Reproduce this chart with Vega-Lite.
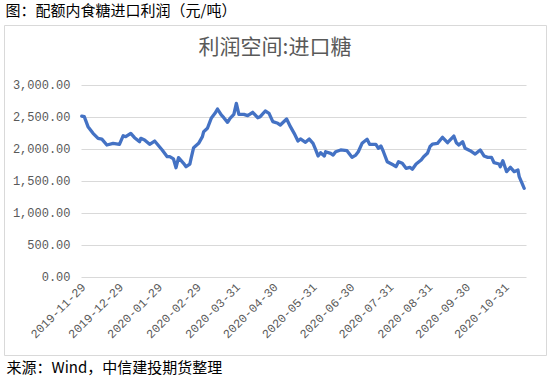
{
  "$schema": "https://vega.github.io/schema/vega-lite/v6.json",
  "padding": {"top": 3, "left": 3, "right": 0, "bottom": 0},
  "background": "white",
  "title": {"text": "图：配额内食糖进口利润（元/吨）", "anchor": "start", "font": "Noto Sans CJK SC", "fontSize": 15, "fontWeight": "normal", "color": "#000000", "offset": 6, "dx": 2},
  "config": {"concat": {"spacing": 0}, "view": {"stroke": "#d9d9d9", "strokeWidth": 1}},
  "vconcat": [
    {
      "width": 542,
      "height": 330,
      "title": {"text": "利润空间:进口糖", "anchor": "middle", "font": "Noto Sans CJK SC", "fontSize": 21, "fontWeight": "normal", "color": "#595959", "offset": -33},
      "data": {"values": [
        {"date": "2019-11-28", "value": 2510},
        {"date": "2019-11-30", "value": 2500},
        {"date": "2019-12-03", "value": 2344},
        {"date": "2019-12-07", "value": 2240},
        {"date": "2019-12-11", "value": 2162},
        {"date": "2019-12-14", "value": 2150},
        {"date": "2019-12-18", "value": 2058},
        {"date": "2019-12-23", "value": 2084},
        {"date": "2019-12-28", "value": 2068},
        {"date": "2019-12-31", "value": 2203},
        {"date": "2020-01-02", "value": 2188},
        {"date": "2020-01-06", "value": 2240},
        {"date": "2020-01-09", "value": 2172},
        {"date": "2020-01-13", "value": 2110},
        {"date": "2020-01-14", "value": 2162},
        {"date": "2020-01-17", "value": 2136},
        {"date": "2020-01-21", "value": 2068},
        {"date": "2020-01-25", "value": 2120},
        {"date": "2020-01-31", "value": 1980},
        {"date": "2020-02-04", "value": 1875},
        {"date": "2020-02-06", "value": 1875},
        {"date": "2020-02-09", "value": 1840},
        {"date": "2020-02-11", "value": 1703},
        {"date": "2020-02-13", "value": 1860},
        {"date": "2020-02-17", "value": 1772},
        {"date": "2020-02-19", "value": 1719},
        {"date": "2020-02-22", "value": 1760},
        {"date": "2020-02-23", "value": 1850},
        {"date": "2020-02-25", "value": 2016},
        {"date": "2020-02-29", "value": 2084},
        {"date": "2020-03-03", "value": 2188},
        {"date": "2020-03-04", "value": 2266},
        {"date": "2020-03-07", "value": 2319},
        {"date": "2020-03-10", "value": 2475},
        {"date": "2020-03-13", "value": 2553},
        {"date": "2020-03-15", "value": 2620},
        {"date": "2020-03-18", "value": 2527},
        {"date": "2020-03-20", "value": 2484},
        {"date": "2020-03-23", "value": 2412},
        {"date": "2020-03-25", "value": 2475},
        {"date": "2020-03-28", "value": 2537},
        {"date": "2020-03-30", "value": 2709},
        {"date": "2020-04-01", "value": 2537},
        {"date": "2020-04-05", "value": 2537},
        {"date": "2020-04-08", "value": 2516},
        {"date": "2020-04-12", "value": 2569},
        {"date": "2020-04-16", "value": 2484},
        {"date": "2020-04-18", "value": 2500},
        {"date": "2020-04-22", "value": 2589},
        {"date": "2020-04-25", "value": 2553},
        {"date": "2020-04-28", "value": 2422},
        {"date": "2020-05-02", "value": 2397},
        {"date": "2020-05-04", "value": 2370},
        {"date": "2020-05-09", "value": 2464},
        {"date": "2020-05-12", "value": 2344},
        {"date": "2020-05-15", "value": 2240},
        {"date": "2020-05-18", "value": 2120},
        {"date": "2020-05-20", "value": 2152},
        {"date": "2020-05-24", "value": 2100},
        {"date": "2020-05-27", "value": 2150},
        {"date": "2020-05-30", "value": 2084},
        {"date": "2020-06-01", "value": 1990},
        {"date": "2020-06-03", "value": 1886},
        {"date": "2020-06-05", "value": 1938},
        {"date": "2020-06-08", "value": 1886},
        {"date": "2020-06-09", "value": 1953},
        {"date": "2020-06-13", "value": 1928},
        {"date": "2020-06-15", "value": 1901},
        {"date": "2020-06-17", "value": 1953},
        {"date": "2020-06-21", "value": 1980},
        {"date": "2020-06-26", "value": 1969},
        {"date": "2020-06-30", "value": 1865},
        {"date": "2020-07-03", "value": 1901},
        {"date": "2020-07-05", "value": 1953},
        {"date": "2020-07-08", "value": 2084},
        {"date": "2020-07-12", "value": 2147},
        {"date": "2020-07-14", "value": 2068},
        {"date": "2020-07-19", "value": 2068},
        {"date": "2020-07-21", "value": 2006},
        {"date": "2020-07-23", "value": 2042},
        {"date": "2020-07-25", "value": 1953},
        {"date": "2020-07-28", "value": 1797},
        {"date": "2020-08-02", "value": 1745},
        {"date": "2020-08-04", "value": 1719},
        {"date": "2020-08-06", "value": 1797},
        {"date": "2020-08-09", "value": 1772},
        {"date": "2020-08-12", "value": 1694},
        {"date": "2020-08-15", "value": 1709},
        {"date": "2020-08-17", "value": 1678},
        {"date": "2020-08-20", "value": 1761},
        {"date": "2020-08-24", "value": 1823},
        {"date": "2020-08-26", "value": 1875},
        {"date": "2020-08-29", "value": 1928},
        {"date": "2020-08-31", "value": 2031},
        {"date": "2020-09-02", "value": 2073},
        {"date": "2020-09-06", "value": 2084},
        {"date": "2020-09-10", "value": 2178},
        {"date": "2020-09-14", "value": 2094},
        {"date": "2020-09-19", "value": 2198},
        {"date": "2020-09-21", "value": 2094},
        {"date": "2020-09-23", "value": 2058},
        {"date": "2020-09-26", "value": 2110},
        {"date": "2020-09-28", "value": 2006},
        {"date": "2020-10-02", "value": 1969},
        {"date": "2020-10-06", "value": 1917},
        {"date": "2020-10-10", "value": 1980},
        {"date": "2020-10-13", "value": 1886},
        {"date": "2020-10-16", "value": 1865},
        {"date": "2020-10-19", "value": 1865},
        {"date": "2020-10-21", "value": 1781},
        {"date": "2020-10-25", "value": 1761},
        {"date": "2020-10-26", "value": 1719},
        {"date": "2020-10-28", "value": 1812},
        {"date": "2020-10-31", "value": 1641},
        {"date": "2020-11-03", "value": 1709},
        {"date": "2020-11-06", "value": 1641},
        {"date": "2020-11-09", "value": 1667},
        {"date": "2020-11-10", "value": 1563},
        {"date": "2020-11-14", "value": 1381}
      ]},
      "mark": {"type": "line", "color": "#4472C4", "strokeWidth": 3.3, "strokeJoin": "round", "strokeCap": "round"},
      "encoding": {
        "x": {
          "field": "date", "type": "temporal",
          "scale": {"type": "utc", "domain": [{"year": 2019, "month": 11, "date": 27, "hours": 10, "utc": true}, {"year": 2020, "month": 11, "date": 15, "hours": 10, "utc": true}], "range": [77, 522]},
          "axis": {
            "title": "来源：Wind，中信建投期货整理",
            "values": [
              {"year": 2019, "month": 11, "date": 29, "utc": true},
              {"year": 2019, "month": 12, "date": 29, "utc": true},
              {"year": 2020, "month": 1, "date": 29, "utc": true},
              {"year": 2020, "month": 2, "date": 29, "utc": true},
              {"year": 2020, "month": 3, "date": 31, "utc": true},
              {"year": 2020, "month": 4, "date": 30, "utc": true},
              {"year": 2020, "month": 5, "date": 31, "utc": true},
              {"year": 2020, "month": 6, "date": 30, "utc": true},
              {"year": 2020, "month": 7, "date": 31, "utc": true},
              {"year": 2020, "month": 8, "date": 31, "utc": true},
              {"year": 2020, "month": 9, "date": 30, "utc": true},
              {"year": 2020, "month": 10, "date": 31, "utc": true}
            ],
            "format": "%Y-%m-%d",
            "labelAngle": -45,
            "labelAlign": "right",
            "labelBaseline": "middle",
            "labelFlush": false,
            "labelOverlap": false,
            "labelBound": false,
            "labelPadding": 8,
            "labelFont": "Liberation Mono",
            "labelFontSize": 12,
            "labelColor": "#595959",
            "offset": -78.3,
            "domain": false,
            "ticks": false,
            "grid": false,
            "titleFont": "Noto Sans CJK SC",
            "titleFontSize": 15,
            "titleFontWeight": "normal",
            "titleColor": "#000000",
            "titleX": 2,
            "titleY": 91,
            "titleAlign": "left",
            "titleBaseline": "middle",
            "titleAnchor": "start"
          }
        },
        "y": {
          "field": "value", "type": "quantitative",
          "scale": {"domain": [0, 3000], "range": [251.7, 59.7], "nice": false},
          "axis": {
            "title": null,
            "values": [0, 500, 1000, 1500, 2000, 2500, 3000],
            "format": ",.2f",
            "offset": -77,
            "domain": false,
            "ticks": false,
            "grid": true,
            "gridColor": "#d9d9d9",
            "gridWidth": 1,
            "labelPadding": 11,
            "labelFont": "Liberation Mono",
            "labelFontSize": 12,
            "labelColor": "#595959"
          }
        }
      }
    }
  ]
}
